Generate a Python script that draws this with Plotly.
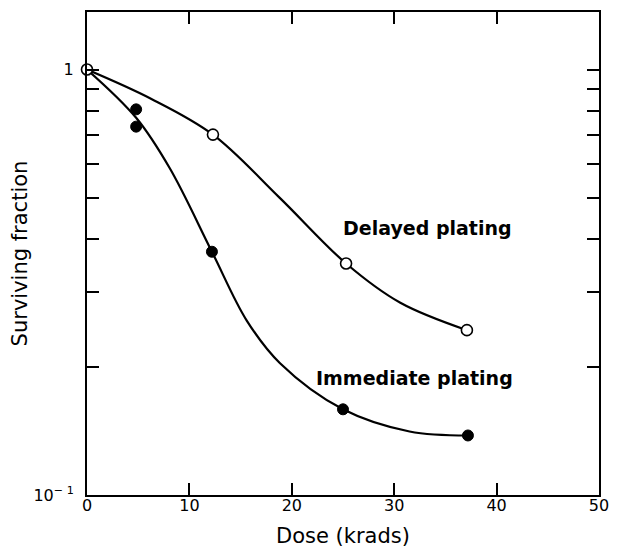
import math
import plotly.graph_objects as go

# Measured data points
delayed_dose = [0, 12.3, 25.3, 37.1]
delayed_surv = [1.0, 0.703, 0.350, 0.244]

immediate_dose = [4.8, 4.8, 12.2, 25.0, 37.2]
immediate_surv = [0.806, 0.734, 0.373, 0.159, 0.138]

# Hand-drawn fitted curves
delayed_curve_dose = [0, 6.2, 12.3, 18.8, 25.3, 30.6, 37.1]
delayed_curve_surv = [1.0, 0.855, 0.703, 0.50, 0.350, 0.283, 0.244]

immediate_curve_dose = [0, 4.8, 8.1, 12.2, 15.6, 18.85, 25.0, 31.5, 37.2]
immediate_curve_surv = [1.0, 0.77, 0.585, 0.373, 0.257, 0.204, 0.159, 0.141, 0.138]

x_ticks = [0, 10, 20, 30, 40, 50]
y_tickvals = [0.1, 0.2, 0.3, 0.4, 0.5, 0.6, 0.7, 0.8, 0.9, 1.0]
y_ticktext = ["10<sup>\u2212 1</sup>", " ", " ", " ", " ", " ", " ", " ", " ", "1"]

label_texts = ["Delayed plating", "Immediate plating"]
label_dose = [33.3, 32.0]
label_surv = [0.423, 0.188]

FONT = "DejaVu Sans"

fig = go.Figure()
fig.add_trace(go.Scatter(x=delayed_curve_dose, y=delayed_curve_surv, mode="lines",
                         line=dict(color="black", width=2.2, shape="spline", smoothing=1.0),
                         hoverinfo="skip", showlegend=False, cliponaxis=False))
fig.add_trace(go.Scatter(x=immediate_curve_dose, y=immediate_curve_surv, mode="lines",
                         line=dict(color="black", width=2.2, shape="spline", smoothing=1.0),
                         hoverinfo="skip", showlegend=False, cliponaxis=False))
fig.add_trace(go.Scatter(x=immediate_dose, y=immediate_surv, mode="markers",
                         marker=dict(symbol="circle", size=11, color="black",
                                     line=dict(color="black", width=1)),
                         showlegend=False, cliponaxis=False))
fig.add_trace(go.Scatter(x=delayed_dose, y=delayed_surv, mode="markers",
                         marker=dict(symbol="circle", size=11, color="white",
                                     line=dict(color="black", width=1.6)),
                         showlegend=False, cliponaxis=False))

for t, xd, ys in zip(label_texts, label_dose, label_surv):
    fig.add_annotation(x=xd, y=math.log10(ys), text="<b>" + t + "</b>", showarrow=False,
                       font=dict(family=FONT, size=19, color="black"))

fig.update_xaxes(range=[0, 50], tickvals=x_ticks, ticks="inside", ticklen=12, tickwidth=1.5,
                 tickcolor="black", showline=True, linecolor="black", linewidth=2,
                 mirror="ticks", showgrid=False, zeroline=False, ticklabelstandoff=-5,
                 tickfont=dict(family=FONT, size=16, color="black"),
                 title=dict(text="Dose (krads)", font=dict(family=FONT, size=21, color="black"),
                            standoff=14))
fig.update_yaxes(type="log", range=[-1, math.log10(1.365)], tickvals=y_tickvals, ticktext=y_ticktext,
                 ticks="inside", ticklen=12, tickwidth=1.5, tickcolor="black",
                 showline=True, linecolor="black", linewidth=2, mirror="ticks",
                 showgrid=False, zeroline=False, ticklabelstandoff=8,
                 tickfont=dict(family=FONT, size=16, color="black"),
                 title=dict(text="Surviving fraction", font=dict(family=FONT, size=21, color="black"),
                            standoff=0))

fig.update_layout(width=620, height=559, margin=dict(l=79, r=29, t=2, b=72),
                  plot_bgcolor="white", paper_bgcolor="white", showlegend=False)

fig.write_html("out.html")
